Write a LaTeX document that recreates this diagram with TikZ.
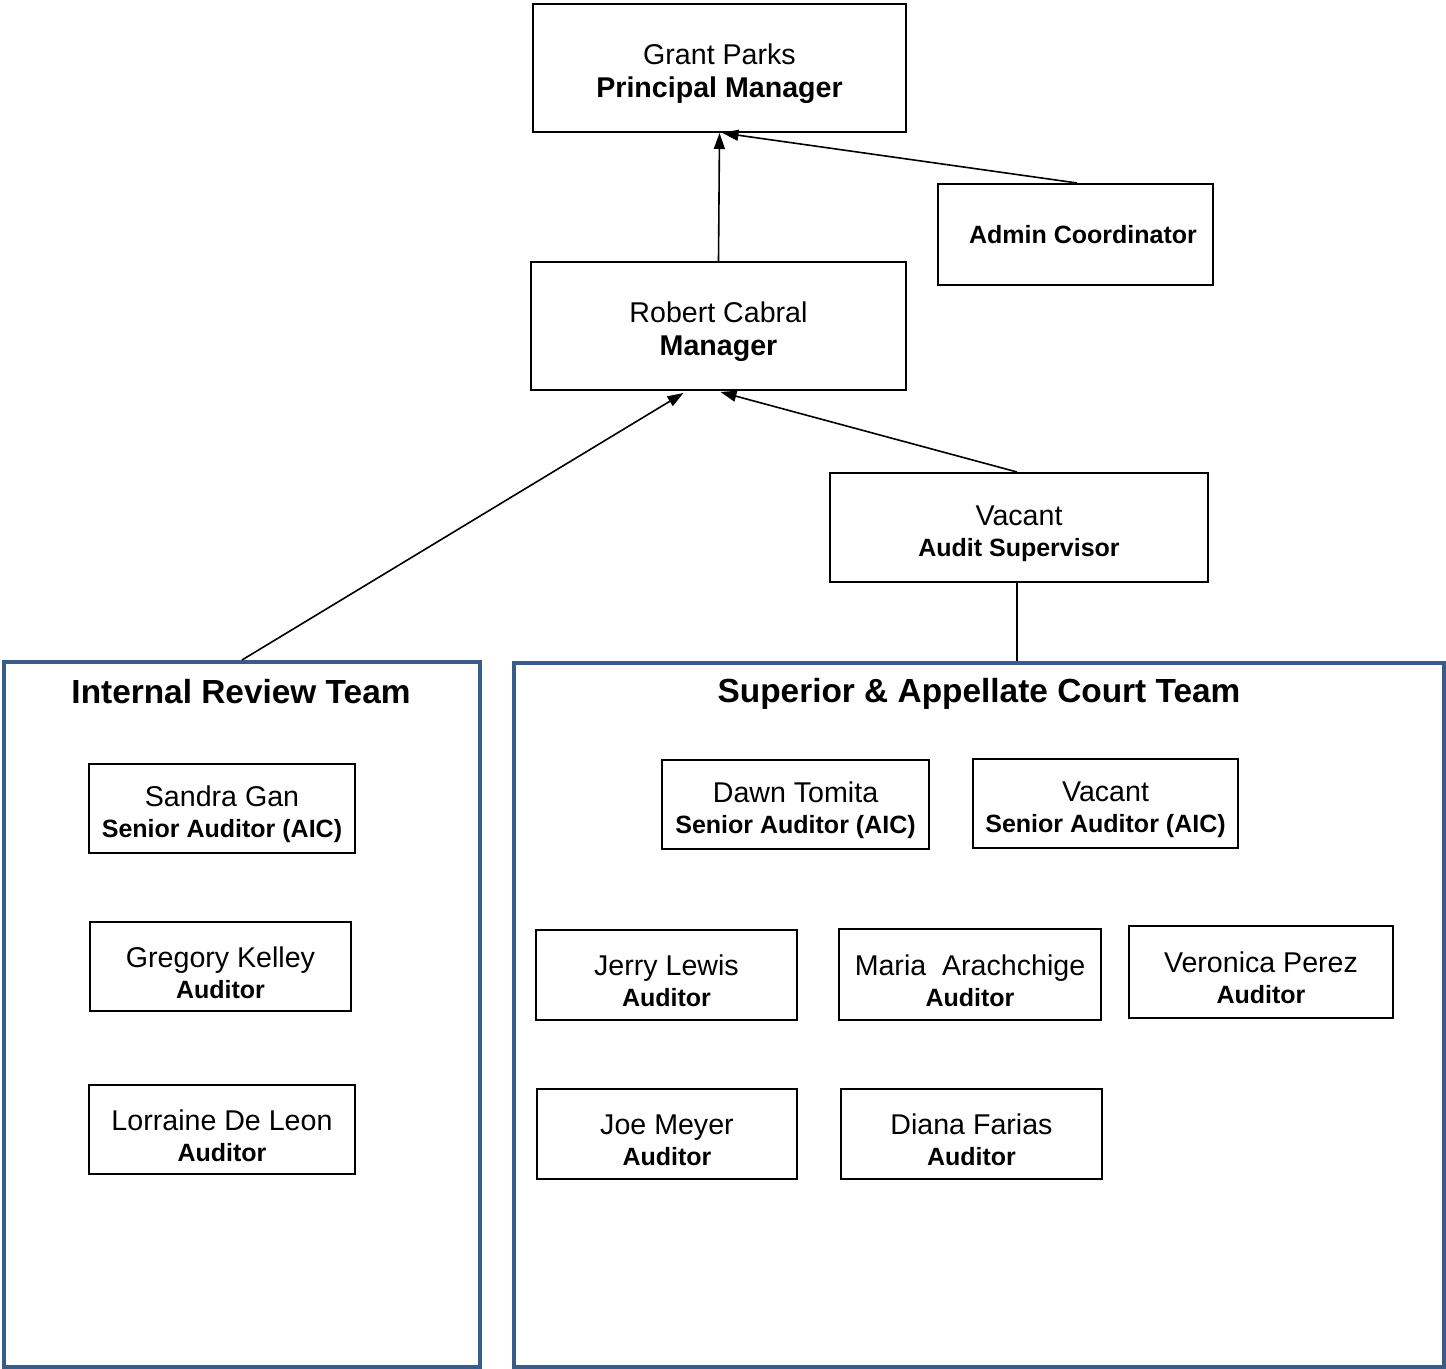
\documentclass[tikz,border=0pt]{standalone}
\usepackage{fontspec}
\setmainfont{Liberation Sans}
\usetikzlibrary{arrows.meta,calc}
\definecolor{teamblue}{RGB}{56,93,138}
\tikzset{
  box/.style={draw=black, line width=1pt, inner sep=0pt, align=center,
    font=\fontsize{14.3}{15.5}\selectfont},
  teambox/.style={draw=teamblue, line width=2pt, inner sep=0pt},
  teamtitle/.style={inner sep=0pt, font=\bfseries\fontsize{16.7}{19}\selectfont},
  link/.style={draw=black, line width=0.8pt},
  arrowlink/.style={link, -{Triangle[length=8pt,width=5.5pt]}}
}
\newcommand{\topstrut}{\rule{0pt}{16.5pt}}
\newcommand{\rolebig}[1]{{\bfseries\fontsize{14.3}{16.5}\selectfont #1}}
\newcommand{\rolesmall}[1]{{\bfseries\fontsize{12.5}{15.5}\selectfont #1}}
\begin{document}
\begin{tikzpicture}[x=0.5pt,y=-0.5pt]
\useasboundingbox (0,0) rectangle (1446,1369);
% top level
\node[box, minimum width=186.5pt, minimum height=64pt, font=\fontsize{14.3}{16.5}\selectfont] (grant) at (719.5,68) {\topstrut Grant Parks\\\rolebig{Principal Manager}};
\node[box, minimum width=137.5pt, minimum height=50.5pt] (admin) at (1075.5,234.5) {\hspace*{7.5pt}\rolesmall{Admin Coordinator}};
\node[box, minimum width=187.5pt, minimum height=64pt, font=\fontsize{14.3}{16.5}\selectfont] (robert) at (718.5,326) {\topstrut Robert Cabral\\\rolebig{Manager}};
\node[box, minimum width=189pt, minimum height=54.5pt] (sup) at (1019,527.5) {\topstrut Vacant\\\rolesmall{Audit Supervisor}};
% team boxes
\node[teambox, minimum width=238pt, minimum height=352.5pt] (irt) at (242,1014.5) {};
\node[teambox, minimum width=465pt, minimum height=352pt] (sact) at (979,1015) {};
\node[teamtitle] (irttitle) at (241,692) {Internal Review Team};
\node[teamtitle] (sacttitle) at (979,694) {Superior \& Appellate Court Team};
% internal review team
\node[box, minimum width=133pt, minimum height=44.5pt] (sandra) at (222,808.5) {\topstrut Sandra Gan\\\rolesmall{Senior Auditor (AIC)}};
\node[box, minimum width=130.5pt, minimum height=44.5pt] (gregory) at (220.5,966.5) {\topstrut Gregory Kelley\\\rolesmall{Auditor}};
\node[box, minimum width=133pt, minimum height=44.5pt] (lorraine) at (222,1129.5) {\topstrut Lorraine De Leon\\\rolesmall{Auditor}};
% superior & appellate court team
\node[box, minimum width=133.5pt, minimum height=44.5pt] (dawn) at (795.5,804.5) {\topstrut Dawn Tomita\\\rolesmall{Senior Auditor (AIC)}};
\node[box, minimum width=132.5pt, minimum height=44.5pt] (vacsen) at (1105.5,803.5) {\topstrut Vacant\\\rolesmall{Senior Auditor (AIC)}};
\node[box, minimum width=130.5pt, minimum height=45pt] (jerry) at (666.5,975) {\topstrut Jerry Lewis\\\rolesmall{Auditor}};
\node[box, minimum width=131pt, minimum height=45.5pt] (maria) at (970,974.5) {\topstrut Maria~\ Arachchige\\\rolesmall{Auditor}};
\node[box, minimum width=132pt, minimum height=46pt] (veronica) at (1261,972) {\topstrut Veronica Perez\\\rolesmall{Auditor}};
\node[box, minimum width=130pt, minimum height=45pt] (joe) at (667,1134) {\topstrut Joe Meyer\\\rolesmall{Auditor}};
\node[box, minimum width=130.5pt, minimum height=45pt] (diana) at (971.5,1134) {\topstrut Diana Farias\\\rolesmall{Auditor}};
% connectors
\draw[arrowlink] (robert.north) -- (grant.south);
\draw[arrowlink] ($(admin.north)+(1.5,0)$) -- ($(grant.south)+(3,0)$);
\draw[arrowlink] (irt.north) -- ($(robert.south)+(-35,2)$);
\draw[arrowlink] ($(sup.north)+(-2,0)$) -- ($(robert.south)+(2,1)$);
\draw[link] ($(sup.south)+(-2,0)$) -- ($(sup.south |- sact.north)+(-2,0)$);
\end{tikzpicture}
\end{document}
